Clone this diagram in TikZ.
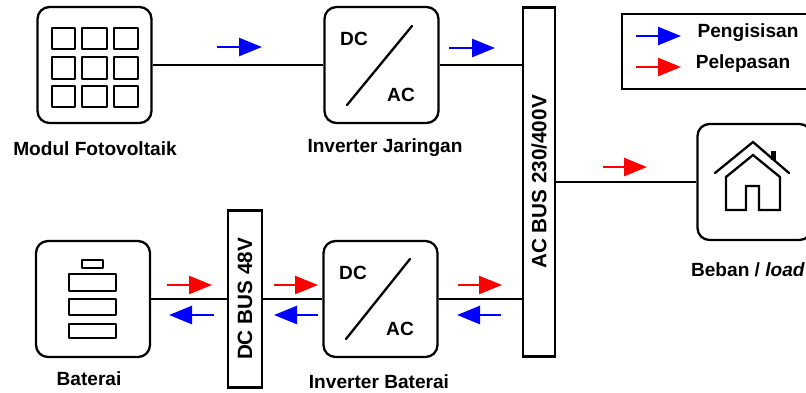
\documentclass[tikz,border=0pt]{standalone}
\usepackage{fontspec}
\usepackage{tikz}
\usetikzlibrary{arrows.meta}
\setmainfont{Liberation Sans}
\tikzstyle{unitbox}=[draw=black,line width=2.3pt,rounded corners=12pt,
                     inner sep=0pt,minimum width=114pt,minimum height=116pt]
\tikzstyle{busbox}=[draw=black,line width=2.3pt,inner sep=0pt,
                    font=\fontsize{20.7}{24}\selectfont\bfseries]
\tikzstyle{legendbox}=[draw=black,line width=1.4pt,inner sep=0pt,
                       minimum width=190pt,minimum height=75pt]
\tikzstyle{caption}=[inner sep=0pt,font=\fontsize{19.1}{22}\selectfont\bfseries]
\tikzstyle{wire}=[draw=black,line width=2.3pt]
\tikzstyle{cell}=[draw=black,line width=2.3pt,line join=round]
\tikzstyle{flow}=[line width=2.6pt,-{Triangle[length=23pt,width=18pt]}]

\begin{document}
\begin{tikzpicture}[x=1pt,y=-1pt]
    \useasboundingbox (0,0) rectangle (806,392);
    \node (modul) at (94.5,65) [unitbox]{};
    \node (invj) at (381.5,65) [unitbox]{};
    \node (invb) at (380.5,299) [unitbox]{};
    \node (baterai) at (93,299) [unitbox]{};
    \node (beban) at (754.5,182) [unitbox]{};
    \node (acbus) at (539,182) [busbox,minimum width=32pt,minimum height=349pt]
        {\rotatebox{90}{AC BUS 230/400V}};
    \node (dcbus) at (245,299) [busbox,minimum width=34pt,minimum height=177pt]
        {\rotatebox{90}{DC BUS 48V}};
    \node (legenda) at (717,51.5) [legendbox]{};

    \draw[wire] (modul.east) -- (invj.west);
    \draw[wire] (invj.east) -- (invj.east -| acbus.west);
    \draw[wire] (acbus.east) -- (beban.west);
    \draw[wire] (baterai.east) -- (dcbus.west);
    \draw[wire] (dcbus.east) -- (invb.west);
    \draw[wire] (invb.east) -- (invb.east -| acbus.west);

    \foreach \nm/\xa/\xb/\yy in {pv/217/262/47,grid/449/495/48,lgb/636/681/36,
                                 batb/214/169/315,dcb/318/274/315,acb/501/457/315}{
        \coordinate (\nm s) at (\xa,\yy);
        \coordinate (\nm e) at (\xb,\yy);
        \draw[flow,blue] (\nm s) -- (\nm e);
    }
    \foreach \nm/\xa/\xb/\yy in {lgr/636/681/67,load/603/647/167,batr/167/212/285,
                                 dcr/274/318/285,acr/458/502/285}{
        \coordinate (\nm s) at (\xa,\yy);
        \coordinate (\nm e) at (\xb,\yy);
        \draw[flow,red] (\nm s) -- (\nm e);
    }

    \foreach \xl/\xr in {52/75,82/107,114/138}{
        \foreach \yt/\yb in {28/49,57/79,86/107}{
            \draw[cell] (\xl,\yt) rectangle (\xr,\yb);
        }
    }

    \draw[cell] (82,260) rectangle (103,268);
    \draw[cell] (69,274) rectangle (116,291);
    \draw[cell] (69,299) rectangle (116,315);
    \draw[cell] (69,324) rectangle (116,338);

    \draw[wire,line cap=round] (347,105) -- (412,26);
    \draw[wire,line cap=round] (346,339) -- (410,259);
    \node (dc1) at (354,39) [caption]{DC};
    \node (ac1) at (401,95) [caption]{AC};
    \node (dc2) at (353,273) [caption]{DC};
    \node (ac2) at (400,329) [caption]{AC};

    \draw[wire,line cap=round] (715,173) -- (753,142) -- (789,173);
    \draw[wire,line join=miter] (726,210) -- (726,177) -- (753,155) -- (780,177)
        -- (780,210) -- (759,210) -- (759,186) -- (746,186) -- (746,210) -- cycle;
    \fill[black] (771,151) rectangle (776,160);

    \node (lblmodul) at (95,149) [caption]{Modul Fotovoltaik};
    \node (lblinvj) at (385,148) [caption]{Inverter Jaringan};
    \node (lblinvb) at (379,382) [caption]{Inverter Baterai};
    \node (lblbaterai) at (89,379) [caption]{Baterai};
    \node (lblbeban) at (748,270) [caption]{Beban / \textit{load}};
    \node (lblisi) at (748,33) [caption]{Pengisisan};
    \node (lbllepas) at (743,64) [caption]{Pelepasan};
\end{tikzpicture}
\end{document}
